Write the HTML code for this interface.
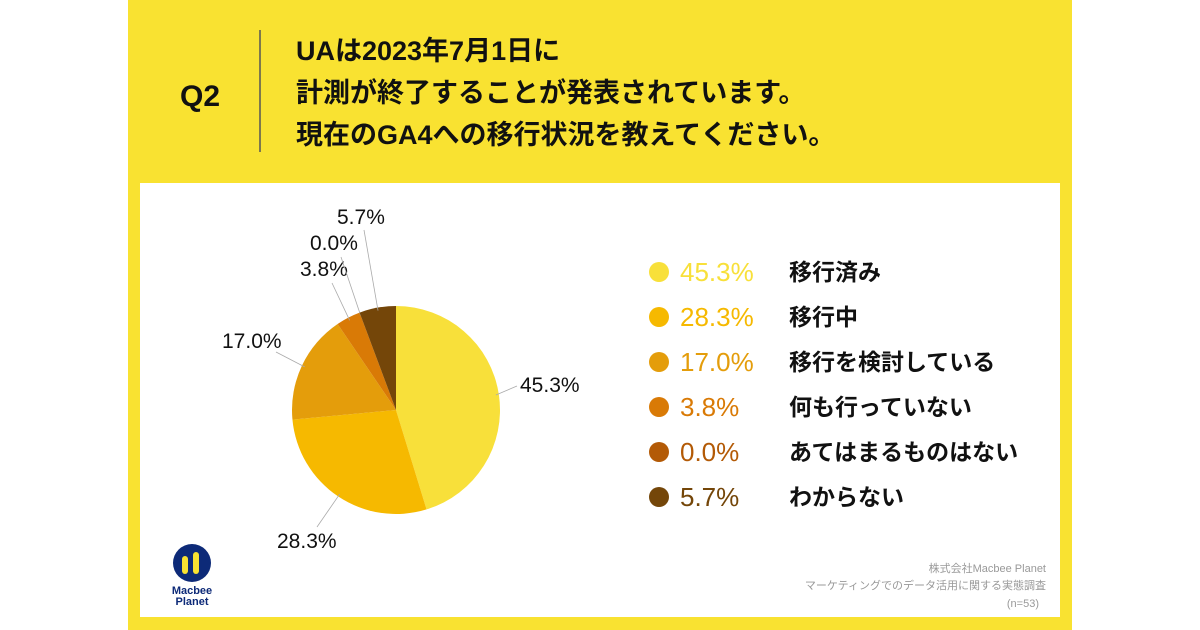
<!DOCTYPE html>
<html><head><meta charset="utf-8">
<style>
html,body{margin:0;padding:0;background:#fff;}
svg{display:block;font-family:"Liberation Sans","Noto Sans CJK JP",sans-serif;}
</style></head>
<body>
<svg id="c" width="1200" height="630" viewBox="0 0 1200 630">
  <rect x="0" y="0" width="1200" height="630" fill="#ffffff"/>
  <rect x="128" y="0" width="944" height="630" fill="#f9e231"/>
  <rect x="140" y="183" width="920" height="434" fill="#ffffff"/>
  <text x="200" y="106" font-size="30" font-weight="bold" text-anchor="middle" fill="#111">Q2</text>
  <line x1="260" y1="30" x2="260" y2="152" stroke="#555" stroke-width="1.5"/>
  <g font-size="27" font-weight="bold" fill="#111">
    <text x="296" y="60">UAは2023年7月1日に</text>
    <text x="296" y="102">計測が終了することが発表されています。</text>
    <text x="296" y="144">現在のGA4への移行状況を教えてください。</text>
  </g>
  <g id="pie"></g>
  <g id="legend"></g>
  <g>
    <circle cx="192" cy="563" r="19" fill="#0d2a78"/>
    <rect x="182" y="556" width="6" height="18" rx="3" fill="#f9e231"/>
    <rect x="193" y="552" width="6" height="22" rx="3" fill="#f9e231"/>
    <text x="192" y="594" font-size="11" font-weight="bold" fill="#0d2a78" text-anchor="middle">Macbee</text>
    <text x="192" y="605" font-size="11" font-weight="bold" fill="#0d2a78" text-anchor="middle">Planet</text>
  </g>
  <g font-size="11" fill="#999" text-anchor="end">
    <text x="1046" y="572">株式会社Macbee Planet</text>
    <text x="1046" y="589">マーケティングでのデータ活用に関する実態調査</text>
    <text x="1039" y="607">(n=53)</text>
  </g>
</svg>
<script>
const categories = ["移行済み","移行中","移行を検討している","何も行っていない","あてはまるものはない","わからない"];
const values = [45.3, 28.3, 17.0, 3.8, 0.0, 5.7];
const valueLabels = ["45.3%","28.3%","17.0%","3.8%","0.0%","5.7%"];
const colors = ["#f8e03a","#f6b900","#e49d0b","#d97a06","#b35a06","#744609"];

const NS = "http://www.w3.org/2000/svg";
const cx = 396, cy = 410, r = 104;
const pie = document.getElementById('pie');
const legend = document.getElementById('legend');
const total = values.reduce((a,b)=>a+b,0);
function pt(a, rad){ return [cx + rad*Math.sin(a), cy - rad*Math.cos(a)]; }
// layout: label text positions and leader-line label-side endpoints
const labelLayout = [
  {tx:520, ty:392, lx:517, ly:386},
  {tx:277, ty:548, lx:317, ly:527},
  {tx:222, ty:348, lx:276, ly:352},
  {tx:300, ty:276, lx:332, ly:283},
  {tx:310, ty:250, lx:341, ly:257},
  {tx:337, ty:224, lx:364, ly:230}
];
let acc = 0;
values.forEach((v,i)=>{
  const a0 = acc/total*2*Math.PI; acc += v; const a1 = acc/total*2*Math.PI;
  if (v > 0) {
    const [x0,y0] = pt(a0,r), [x1,y1] = pt(a1,r);
    const p = document.createElementNS(NS,'path');
    p.setAttribute('d', `M${cx},${cy} L${x0},${y0} A${r},${r} 0 ${a1-a0>Math.PI?1:0} 1 ${x1},${y1} Z`);
    p.setAttribute('fill', colors[i]);
    
    
    pie.appendChild(p);
  }
  const am = (a0+a1)/2;
  const [ex,ey] = pt(am, r-3);
  const L = labelLayout[i];
  const ln = document.createElementNS(NS,'line');
  ln.setAttribute('x1', ex); ln.setAttribute('y1', ey);
  ln.setAttribute('x2', L.lx); ln.setAttribute('y2', L.ly);
  ln.setAttribute('stroke', '#aaa'); ln.setAttribute('stroke-width', '0.8');
  
  
  pie.appendChild(ln);
  const t = document.createElementNS(NS,'text');
  t.setAttribute('x', L.tx); t.setAttribute('y', L.ty);
  t.setAttribute('font-size', '21'); t.setAttribute('fill', '#111');
  t.textContent = valueLabels[i];
  
  
  pie.appendChild(t);

  const ry = 272 + i*45;
  const c = document.createElementNS(NS,'circle');
  c.setAttribute('cx', 659); c.setAttribute('cy', ry); c.setAttribute('r', 10);
  c.setAttribute('fill', colors[i]);
  
  
  legend.appendChild(c);
  const pv = document.createElementNS(NS,'text');
  pv.setAttribute('x', 680); pv.setAttribute('y', ry+9);
  pv.setAttribute('font-size', '26'); pv.setAttribute('fill', colors[i]);
  pv.textContent = valueLabels[i];
  
  
  legend.appendChild(pv);
  const lb = document.createElementNS(NS,'text');
  lb.setAttribute('x', 789); lb.setAttribute('y', ry+8);
  lb.setAttribute('font-size', '23'); lb.setAttribute('font-weight', 'bold'); lb.setAttribute('fill', '#111');
  lb.textContent = categories[i];
  
  
  legend.appendChild(lb);
});
</script>
</body></html>
